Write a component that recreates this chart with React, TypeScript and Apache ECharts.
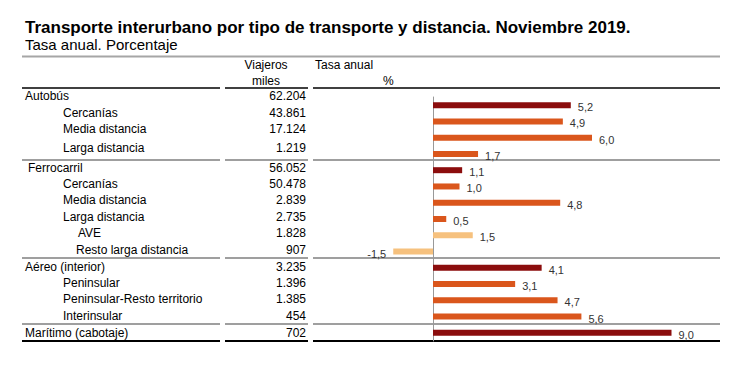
import React, { useEffect, useRef } from "react";
import * as echarts from "echarts";

const categories = [
  "Autobús",
  "Cercanías",
  "Media distancia",
  "Larga distancia",
  "Ferrocarril",
  "Cercanías",
  "Media distancia",
  "Larga distancia",
  "AVE",
  "Resto larga distancia",
  "Aéreo (interior)",
  "Peninsular",
  "Peninsular-Resto territorio",
  "Interinsular",
  "Marítimo (cabotaje)",
];
const viajerosMiles = [
  "62.204", "43.861", "17.124", "1.219",
  "56.052", "50.478", "2.839", "2.735", "1.828", "907",
  "3.235", "1.396", "1.385", "454",
  "702",
];
const tasaAnual = [5.2, 4.9, 6.0, 1.7, 1.1, 1.0, 4.8, 0.5, 1.5, -1.5, 4.1, 3.1, 4.7, 5.6, 9.0];
const levels = [0, 1, 1, 1, 0, 1, 1, 1, 2, 2, 0, 1, 1, 1, 0];

const title = "Transporte interurbano por tipo de transporte y distancia. Noviembre 2019.";
const subtitle = "Tasa anual. Porcentaje";

// layout (not data)
const rowTextY = [96, 113, 129, 148, 168, 184, 200, 217, 233, 250, 267, 283, 299, 316, 333];
const rowTextX = [25, 63, 63, 63, 28, 63, 63, 63, 78, 76, 25, 63, 63, 63, 25];
const separatorsY = [160, 258, 324];
const segments = [[22, 220], [225, 308], [313, 720]];
const levelColors = ["#8B0D0D", "#DA561C", "#F6C17E"];

export default function App() {
  const ref = useRef<HTMLDivElement>(null);
  useEffect(() => {
    if (!ref.current) return;
    const chart = echarts.init(ref.current, null, { renderer: "svg" });
    const font = "Liberation Sans, Arial, sans-serif";
    const graphics: any[] = [];
    graphics.push({
      type: "text", left: 25, top: 19,
      style: { text: title, font: `bold 17px ${font}`, fill: "#000" },
    });
    graphics.push({
      type: "text", left: 25, top: 37,
      style: { text: subtitle, font: `15px ${font}`, fill: "#000" },
    });
    graphics.push({
      type: "line", shape: { x1: 22, y1: 56.5, x2: 720, y2: 56.5 },
      style: { stroke: "#a6a6a6", lineWidth: 2 },
    });
    graphics.push({ type: "text", x: 266, y: 65, style: { text: "Viajeros", font: `12px ${font}`, fill: "#000", align: "center", verticalAlign: "middle" } });
    graphics.push({ type: "text", x: 266, y: 81, style: { text: "miles", font: `12px ${font}`, fill: "#000", align: "center", verticalAlign: "middle" } });
    graphics.push({ type: "text", x: 315, y: 65, style: { text: "Tasa anual", font: `12px ${font}`, fill: "#000", align: "left", verticalAlign: "middle" } });
    graphics.push({ type: "text", x: 383, y: 81, style: { text: "%", font: `12px ${font}`, fill: "#000", align: "left", verticalAlign: "middle" } });
    segments.forEach(([a, b]) => {
      graphics.push({ type: "line", shape: { x1: a, y1: 88, x2: b, y2: 88 }, style: { stroke: "#404040", lineWidth: 2 } });
      separatorsY.forEach((y) => {
        graphics.push({ type: "line", shape: { x1: a, y1: y, x2: b, y2: y }, style: { stroke: "#7f7f7f", lineWidth: 1.5 } });
      });
      graphics.push({ type: "line", shape: { x1: a, y1: 341, x2: b, y2: 341 }, style: { stroke: "#000", lineWidth: 2 } });
    });
    categories.forEach((name, i) => {
      graphics.push({ type: "text", x: rowTextX[i], y: rowTextY[i], style: { text: name, font: `12px ${font}`, fill: "#000", align: "left", verticalAlign: "middle" } });
      graphics.push({ type: "text", x: 306, y: rowTextY[i], style: { text: viajerosMiles[i], font: `12px ${font}`, fill: "#000", align: "right", verticalAlign: "middle" } });
    });

    chart.setOption({
      animation: false,
      grid: { left: 380, width: 318, top: 97, height: 244 },
      xAxis: {
        type: "value", min: -2, max: 10, show: false,
      },
      yAxis: {
        type: "category", data: categories.map((c, i) => c + "#" + i), inverse: true,
        axisLine: { show: true, onZero: true, lineStyle: { color: "#999", width: 1 } },
        axisTick: { show: false }, axisLabel: { show: false }, splitLine: { show: false },
      },
      series: [{
        type: "bar",
        barWidth: 6,
        data: tasaAnual.map((v, i) => ({
          value: v,
          itemStyle: { color: levelColors[levels[i]] },
          label: { position: v < 0 ? "left" : "right" },
        })),
        label: {
          show: true, distance: 7, offset: [0, 2],
          fontFamily: font, fontSize: 11, color: "#333",
          formatter: (p: any) => p.value.toFixed(1).replace(".", ","),
        },
      }],
      graphic: graphics,
    });
    return () => chart.dispose();
  }, []);
  return <div ref={ref} style={{ position: "absolute", left: 0, top: 0, width: 750, height: 367 }} />;
}
